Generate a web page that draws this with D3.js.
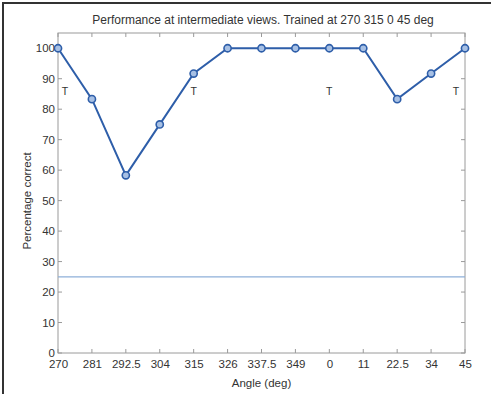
<!DOCTYPE html>
<html><head><meta charset="utf-8">
<script src="https://cdn.jsdelivr.net/npm/d3@7"></script>
<style>body{margin:0;background:#fff}svg{display:block}text{font-family:"Liberation Sans",Arial,sans-serif}</style>
</head><body><svg id="c" width="493" height="394"></svg>
<script>
const angles = ["270","281","292.5","304","315","326","337.5","349","0","11","22.5","34","45"];
const values = [100,83.3,58.3,75,91.7,100,100,100,100,100,83.3,91.7,100];
const chance = 25;
const trained = ["270","315","0","45"];
const yTicks = [0,10,20,30,40,50,60,70,80,90,100];
const title = "Performance at intermediate views. Trained at 270 315 0 45 deg";

const svg = d3.select("#c");
const L=58,R=465,T=33,B=353;
const x = d3.scalePoint().domain(angles).range([L,R]);
const y = d3.scaleLinear().domain([0,105]).range([B,T]);
const axisCol="#9a9a9a", txtCol="#333";

// figure frame
svg.append("path").attr("d","M3,394V3H491").attr("fill","none").attr("stroke","#333").attr("stroke-width",2);

// axes box
svg.append("rect").attr("x",L).attr("y",T).attr("width",R-L).attr("height",B-T).attr("fill","none").attr("stroke",axisCol).attr("stroke-width",1);

// x ticks bottom and top
const xa = d3.axisBottom(x).tickSize(0).tickPadding(7);
const gx = svg.append("g").attr("transform",`translate(0,${B})`).call(xa);
gx.select(".domain").remove();
gx.selectAll("text").attr("fill",txtCol).style("font-size","11.5px");
svg.append("g").selectAll("line").data(angles).join("line")
  .attr("x1",d=>x(d)).attr("x2",d=>x(d)).attr("y1",B).attr("y2",B-4).attr("stroke",axisCol);
svg.append("g").selectAll("line").data(angles).join("line")
  .attr("x1",d=>x(d)).attr("x2",d=>x(d)).attr("y1",T).attr("y2",T+4).attr("stroke",axisCol);

// y ticks
const ya = d3.axisLeft(y).tickValues(yTicks).tickSize(0).tickPadding(3);
const gy = svg.append("g").attr("transform",`translate(${L},0)`).call(ya);
gy.select(".domain").remove();
gy.selectAll("text").attr("fill",txtCol).style("font-size","11.5px");
svg.append("g").selectAll("line").data(yTicks).join("line")
  .attr("x1",L).attr("x2",L+4).attr("y1",d=>y(d)).attr("y2",d=>y(d)).attr("stroke",axisCol);
svg.append("g").selectAll("line").data(yTicks).join("line")
  .attr("x1",R).attr("x2",R-4).attr("y1",d=>y(d)).attr("y2",d=>y(d)).attr("stroke",axisCol);

// chance line
svg.append("line").attr("x1",L).attr("x2",R).attr("y1",y(chance)).attr("y2",y(chance))
  .attr("stroke","#8eafd9").attr("stroke-width",1.3);

// data line
const data = angles.map((a,i)=>({a,v:values[i]}));
svg.append("path").datum(data).attr("fill","none").attr("stroke","#2e5ea9").attr("stroke-width",2)
  .attr("d",d3.line().x(d=>x(d.a)).y(d=>y(d.v)));
svg.append("g").selectAll("circle").data(data).join("circle")
  .attr("cx",d=>x(d.a)).attr("cy",d=>y(d.v)).attr("r",3.6)
  .attr("fill","#a7c0e4").attr("stroke","#2e5ea9").attr("stroke-width",1.6);

// T labels
const last = angles[angles.length-1], first = angles[0];
svg.append("g").selectAll("text").data(trained).join("text")
  .attr("x",d=>x(d)+(d===first?7:d===last?-9:0)).attr("y",y(86)+4)
  .attr("text-anchor","middle").attr("fill",txtCol).style("font-size","10.5px").text("T");

// title and labels
svg.append("text").attr("x",263).attr("y",24).attr("text-anchor","middle").attr("fill",txtCol)
  .style("font-size","12px").text(title);
svg.append("text").attr("x",(L+R)/2).attr("y",387).attr("text-anchor","middle").attr("fill",txtCol)
  .style("font-size","11.5px").text("Angle (deg)");
svg.append("text").attr("transform",`translate(31,${(T+B)/2+8}) rotate(-90)`).attr("text-anchor","middle")
  .attr("fill",txtCol).style("font-size","11.5px").text("Percentage correct");
</script></body></html>
